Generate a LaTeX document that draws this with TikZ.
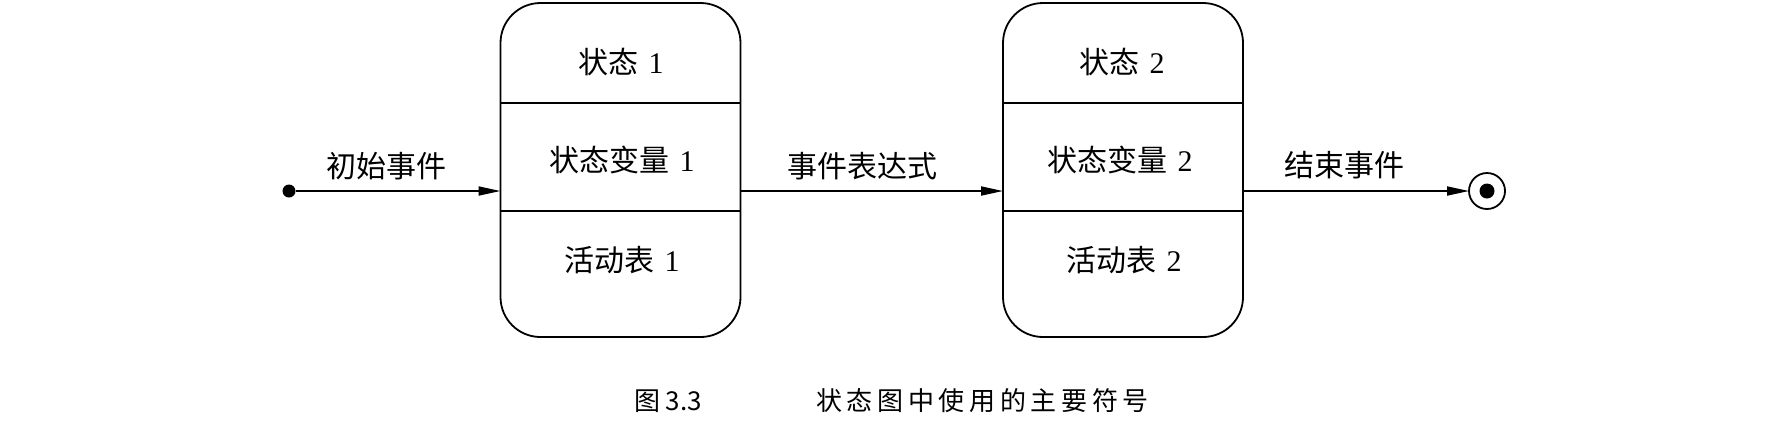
\documentclass[tikz,border=0pt]{standalone}
\usepackage{fontspec}
\setmainfont{Liberation Serif}
\newfontfamily\cjk{Noto Sans CJK SC}
\newfontfamily\cjkcap[LetterSpace=18]{Noto Sans CJK SC}
\newcommand\zh[1]{{\cjk #1}}
\usetikzlibrary{arrows.meta}
\begin{document}
\begin{tikzpicture}[x=0.5pt,y=-0.5pt,
  every node/.style={inner sep=0pt, outer sep=0pt},
  statebox/.style={draw, line width=0.9pt, rounded corners=20pt, minimum width=120pt, minimum height=167pt},
  boxtext/.style={font=\fontsize{15pt}{17pt}\selectfont},
  lbl/.style={font=\fontsize{15pt}{17pt}\selectfont},
  capfont/.style={font=\fontsize{13pt}{15pt}\selectfont, anchor=west},
  arr/.style={line width=0.9pt, -{Triangle[length=11pt,width=4.5pt]}},
  divider/.style={line width=0.9pt}]
\useasboundingbox (0,0) rectangle (1770,420);
% state boxes
\node[statebox] (b1) at (620.5,170) {};
\node[statebox] (b2) at (1123,170) {};
\draw[divider] (b1.west |- 0,103) -- (b1.east |- 0,103);
\draw[divider] (b1.west |- 0,211) -- (b1.east |- 0,211);
\draw[divider] (b2.west |- 0,103) -- (b2.east |- 0,103);
\draw[divider] (b2.west |- 0,211) -- (b2.east |- 0,211);
% box texts
\node[boxtext] (s1) at (621,62) {\zh{状态}\hspace{5pt}1};
\node[boxtext] (v1) at (622,160) {\zh{状态变量}\hspace{5pt}1};
\node[boxtext] (a1) at (622,260) {\zh{活动表}\hspace{5pt}1};
\node[boxtext] (s2) at (1122,62) {\zh{状态}\hspace{5pt}2};
\node[boxtext] (v2) at (1120,160) {\zh{状态变量}\hspace{5pt}2};
\node[boxtext] (a2) at (1124,260) {\zh{活动表}\hspace{5pt}2};
% start and end
\node[circle, fill, minimum size=6.5pt] (start) at (289,191) {};
\node[circle, draw, line width=0.9pt, minimum size=18pt] (end) at (1487,191) {};
\node[circle, fill, minimum size=7.5pt] (endin) at (end.center) {};
% connectors
\draw[arr] (start) -- (start -| b1.west);
\draw[arr] (b1.east |- start) -- (b2.west |- start);
\draw[arr] (b2.east |- end) -- (end);
% labels
\node[lbl] (l1) at (386,166) {\zh{初始事件}};
\node[lbl] (l2) at (862,166) {\zh{事件表达式}};
\node[lbl] (l3) at (1344,165) {\zh{结束事件}};
% caption
\node[capfont] (capa) at (634,401) {{\cjk 图}\hspace{3pt}{\cjk 3.3}};
\node[capfont] (capb) at (816,401) {{\cjkcap 状态图中使用的主要符号}};
\end{tikzpicture}
\end{document}
